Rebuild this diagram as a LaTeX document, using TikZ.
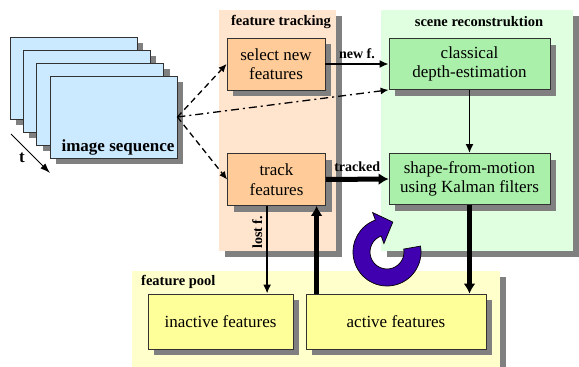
\documentclass[tikz,border=0pt]{standalone}
\usepackage{fontspec}
\setmainfont{Liberation Serif}
\usetikzlibrary{arrows.meta,shadows,calc}
\definecolor{shadowgray}{RGB}{128,128,128}
\definecolor{edgegray}{RGB}{50,50,50}
\definecolor{peachpanel}{RGB}{255,228,206}
\definecolor{orangebox}{RGB}{255,204,153}
\definecolor{greenpanel}{RGB}{224,255,224}
\definecolor{greenbox}{RGB}{170,240,170}
\definecolor{bluebox}{RGB}{204,234,255}
\definecolor{yellowpanel}{RGB}{255,255,204}
\definecolor{yellowbox}{RGB}{255,255,153}
\definecolor{rotpurple}{RGB}{64,0,176}
\tikzset{
  shad/.style={drop shadow={shadow xshift=6pt, shadow yshift=-6pt, fill=shadowgray, opacity=1}},
  panel/.style={shad, anchor=north west, inner sep=0pt, draw=none},
  procbox/.style={shad, draw=edgegray, line width=0.8pt, inner sep=0pt, align=center,
     font=\fontsize{17}{19.5}\selectfont},
  framebox/.style={shad, draw=edgegray, line width=0.8pt, fill=bluebox, inner sep=0pt,
     minimum width=127pt, minimum height=82pt},
  title/.style={font=\fontsize{14.5}{16}\selectfont\bfseries, inner sep=0pt},
  lbl/.style={font=\fontsize{14}{16}\selectfont\bfseries, inner sep=0pt},
  arr/.style={line width=1.7pt, -{Latex[length=9pt,width=8pt]}},
  fatarr/.style={line width=5pt, -{Latex[length=10pt,width=12pt]}},
  dasharr/.style={line width=1.3pt, dash pattern=on 6pt off 4pt, -{Latex[length=8pt,width=7pt]}},
  dotdasharr/.style={line width=1.3pt, dash pattern=on 8pt off 4pt on 2pt off 4pt, -{Latex[length=8pt,width=7pt]}}
}
\begin{document}
\begin{tikzpicture}[x=1pt,y=-1pt]
\useasboundingbox (0,0) rectangle (579,367);
% panels
\node[panel, fill=peachpanel, minimum width=117pt, minimum height=241pt] (ptrk) at (219,10) {};
\node[panel, fill=greenpanel, minimum width=192pt, minimum height=241pt] (pscene) at (381,10) {};
\node[panel, fill=yellowpanel, minimum width=368pt, minimum height=96pt] (ppool) at (132,271) {};
\node[title] (ttrk) at (281,22) {feature tracking};
\node[title] (tscene) at (479,22) {scene reconstruktion};
\node[title, anchor=west] (tpool) at (141,282) {feature pool};
% image sequence
\node[framebox] (f1) at (73.5,78) {};
\node[framebox] (f2) at (86.5,91) {};
\node[framebox] (f3) at (100,104) {};
\node[framebox] (img) at (113.5,117) {};
\node[font=\fontsize{17}{19}\selectfont\bfseries, inner sep=0pt] (imgtxt) at (118,147) {image sequence};
\coordinate (ta) at (11,134);
\coordinate (tb) at (50,173);
\draw[line width=1pt, -{Latex[length=10pt,width=7pt]}] (ta) -- (tb);
\node[font=\fontsize{17}{19}\selectfont\bfseries, inner sep=0pt] (tlabel) at (22,158) {t};
% boxes
\node[procbox, fill=orangebox, minimum width=98pt, minimum height=52pt] (sel) at (276,64) {select new\\features};
\node[procbox, fill=orangebox, minimum width=98pt, minimum height=52pt] (trk) at (276.5,179.5) {track\\features};
\node[procbox, fill=greenbox, minimum width=161pt, minimum height=51pt] (cls) at (469.5,64) {classical\\depth-estimation};
\node[procbox, fill=greenbox, minimum width=161pt, minimum height=51pt] (sfm) at (469.5,179) {shape-from-motion\\using Kalman filters};
\node[procbox, fill=yellowbox, minimum width=145pt, minimum height=55pt] (inact) at (220.5,321.5) {inactive features};
\node[procbox, fill=yellowbox, minimum width=180pt, minimum height=55pt] (act) at (396,321.5) {active features};
% connectors
\draw[dasharr] (img.east) -- (sel.west);
\draw[dasharr] (img.east) -- (trk.west);
\draw[dotdasharr] (img.east) -- (cls.south west);
\draw[arr] (sel.east) -- node[lbl, above=4pt] (lnew) {new f.} (cls.west);
\draw[fatarr] (trk.east) -- node[lbl, above=5pt] (ltrk) {tracked} (sfm.west);
\draw[arr] (cls.south) -- (sfm.north);
\draw[arr] ([xshift=40pt]trk.south west) -- node[lbl, rotate=90, pos=0.3, above=4pt] (llost) {lost f.} ([xshift=40pt]trk.south west |- inact.north);
\draw[fatarr] ([xshift=11pt]act.north west) -- ([xshift=11pt]act.north west |- trk.south);
\draw[fatarr] (sfm.south) -- (sfm.south |- act.north);
% rotation arrow
\coordinate (rot) at (387,252);
\filldraw[fill=rotpurple, draw=black, line width=0.7pt]
  ($(rot)+(-10:34)$) arc[start angle=-10, end angle=250, radius=34]
  -- ($(rot)+(250:42)$) -- ($(rot)+(281:30.5)$) -- ($(rot)+(250:9)$)
  -- ($(rot)+(250:17)$) arc[start angle=250, end angle=-10, radius=17] -- cycle;
\end{tikzpicture}
\end{document}
